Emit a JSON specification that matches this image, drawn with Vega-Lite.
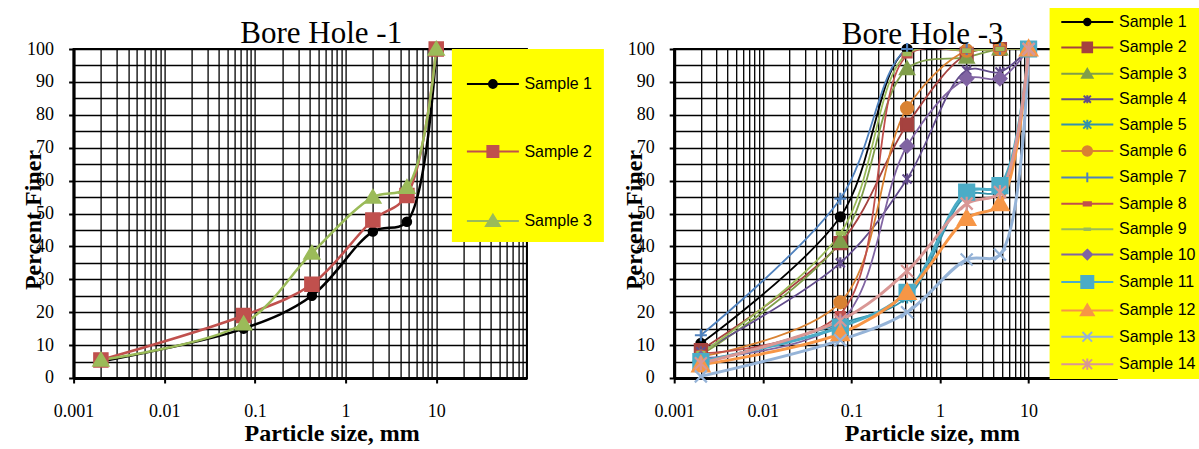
{
  "$schema": "https://vega.github.io/schema/vega-lite/v6.json",
  "autosize": {"type": "pad"},
  "padding": {"left": 20.6, "top": 7, "right": 0, "bottom": 0},
  "background": "white",
  "bounds": "flush",
  "spacing": 146.6,
  "resolve": {"scale": {"color": "independent", "stroke": "independent", "shape": "independent"}, "legend": {"color": "independent"}},
  "datasets": {
    "bh1": [
      {"sample": "Sample 1", "size": 0.002, "finer": 5},
      {"sample": "Sample 1", "size": 0.075, "finer": 15},
      {"sample": "Sample 1", "size": 0.425, "finer": 25},
      {"sample": "Sample 1", "size": 2, "finer": 44.5},
      {"sample": "Sample 1", "size": 4.75, "finer": 47.5},
      {"sample": "Sample 1", "size": 10, "finer": 100},
      {"sample": "Sample 2", "size": 0.002, "finer": 5.5},
      {"sample": "Sample 2", "size": 0.075, "finer": 19},
      {"sample": "Sample 2", "size": 0.425, "finer": 28.5},
      {"sample": "Sample 2", "size": 2, "finer": 48},
      {"sample": "Sample 2", "size": 4.75, "finer": 55.5},
      {"sample": "Sample 2", "size": 10, "finer": 100},
      {"sample": "Sample 3", "size": 0.002, "finer": 5.5},
      {"sample": "Sample 3", "size": 0.075, "finer": 16.5},
      {"sample": "Sample 3", "size": 0.425, "finer": 38},
      {"sample": "Sample 3", "size": 2, "finer": 55},
      {"sample": "Sample 3", "size": 4.75, "finer": 58},
      {"sample": "Sample 3", "size": 10, "finer": 100}
    ],
    "bh3": [
      {"sample": "Sample 1", "size": 0.002, "finer": 10.5},
      {"sample": "Sample 1", "size": 0.075, "finer": 49},
      {"sample": "Sample 1", "size": 0.425, "finer": 100},
      {"sample": "Sample 1", "size": 2, "finer": 100},
      {"sample": "Sample 1", "size": 4.75, "finer": 100},
      {"sample": "Sample 1", "size": 10, "finer": 100},
      {"sample": "Sample 2", "size": 0.002, "finer": 8.5},
      {"sample": "Sample 2", "size": 0.075, "finer": 41},
      {"sample": "Sample 2", "size": 0.425, "finer": 77},
      {"sample": "Sample 2", "size": 2, "finer": 98.5},
      {"sample": "Sample 2", "size": 4.75, "finer": 100},
      {"sample": "Sample 2", "size": 10, "finer": 100},
      {"sample": "Sample 3", "size": 0.002, "finer": 7},
      {"sample": "Sample 3", "size": 0.075, "finer": 41.5},
      {"sample": "Sample 3", "size": 0.425, "finer": 94},
      {"sample": "Sample 3", "size": 2, "finer": 97.5},
      {"sample": "Sample 3", "size": 4.75, "finer": 100},
      {"sample": "Sample 3", "size": 10, "finer": 100},
      {"sample": "Sample 4", "size": 0.002, "finer": 8},
      {"sample": "Sample 4", "size": 0.075, "finer": 35},
      {"sample": "Sample 4", "size": 0.425, "finer": 60.5},
      {"sample": "Sample 4", "size": 2, "finer": 93.5},
      {"sample": "Sample 4", "size": 4.75, "finer": 93},
      {"sample": "Sample 4", "size": 10, "finer": 100},
      {"sample": "Sample 5", "size": 0.002, "finer": 4.5},
      {"sample": "Sample 5", "size": 0.075, "finer": 16.5},
      {"sample": "Sample 5", "size": 0.425, "finer": 24.5},
      {"sample": "Sample 5", "size": 2, "finer": 55.5},
      {"sample": "Sample 5", "size": 4.75, "finer": 57},
      {"sample": "Sample 5", "size": 10, "finer": 100},
      {"sample": "Sample 6", "size": 0.002, "finer": 6.5},
      {"sample": "Sample 6", "size": 0.075, "finer": 23},
      {"sample": "Sample 6", "size": 0.425, "finer": 82},
      {"sample": "Sample 6", "size": 2, "finer": 99.5},
      {"sample": "Sample 6", "size": 4.75, "finer": 100},
      {"sample": "Sample 6", "size": 10, "finer": 100},
      {"sample": "Sample 7", "size": 0.002, "finer": 13},
      {"sample": "Sample 7", "size": 0.075, "finer": 54.5},
      {"sample": "Sample 7", "size": 0.425, "finer": 100},
      {"sample": "Sample 7", "size": 2, "finer": 100},
      {"sample": "Sample 7", "size": 4.75, "finer": 100},
      {"sample": "Sample 7", "size": 10, "finer": 100},
      {"sample": "Sample 8", "size": 0.002, "finer": 7.5},
      {"sample": "Sample 8", "size": 0.075, "finer": 19.5},
      {"sample": "Sample 8", "size": 0.425, "finer": 98},
      {"sample": "Sample 8", "size": 2, "finer": 99.5},
      {"sample": "Sample 8", "size": 4.75, "finer": 100},
      {"sample": "Sample 8", "size": 10, "finer": 100},
      {"sample": "Sample 9", "size": 0.002, "finer": 7.5},
      {"sample": "Sample 9", "size": 0.075, "finer": 44},
      {"sample": "Sample 9", "size": 0.425, "finer": 98.5},
      {"sample": "Sample 9", "size": 2, "finer": 99.5},
      {"sample": "Sample 9", "size": 4.75, "finer": 100},
      {"sample": "Sample 9", "size": 10, "finer": 100},
      {"sample": "Sample 10", "size": 0.002, "finer": 6},
      {"sample": "Sample 10", "size": 0.075, "finer": 17},
      {"sample": "Sample 10", "size": 0.425, "finer": 70.5},
      {"sample": "Sample 10", "size": 2, "finer": 91},
      {"sample": "Sample 10", "size": 4.75, "finer": 91},
      {"sample": "Sample 10", "size": 10, "finer": 100},
      {"sample": "Sample 11", "size": 0.002, "finer": 5},
      {"sample": "Sample 11", "size": 0.075, "finer": 15.5},
      {"sample": "Sample 11", "size": 0.425, "finer": 26},
      {"sample": "Sample 11", "size": 2, "finer": 56.5},
      {"sample": "Sample 11", "size": 4.75, "finer": 58.5},
      {"sample": "Sample 11", "size": 10, "finer": 100},
      {"sample": "Sample 12", "size": 0.002, "finer": 4},
      {"sample": "Sample 12", "size": 0.075, "finer": 13.5},
      {"sample": "Sample 12", "size": 0.425, "finer": 26},
      {"sample": "Sample 12", "size": 2, "finer": 48.5},
      {"sample": "Sample 12", "size": 4.75, "finer": 53},
      {"sample": "Sample 12", "size": 10, "finer": 100},
      {"sample": "Sample 13", "size": 0.002, "finer": 0.5},
      {"sample": "Sample 13", "size": 0.075, "finer": 11.5},
      {"sample": "Sample 13", "size": 0.425, "finer": 20},
      {"sample": "Sample 13", "size": 2, "finer": 36},
      {"sample": "Sample 13", "size": 4.75, "finer": 37.5},
      {"sample": "Sample 13", "size": 10, "finer": 100},
      {"sample": "Sample 14", "size": 0.002, "finer": 4.5},
      {"sample": "Sample 14", "size": 0.075, "finer": 17.5},
      {"sample": "Sample 14", "size": 0.425, "finer": 32.5},
      {"sample": "Sample 14", "size": 2, "finer": 53},
      {"sample": "Sample 14", "size": 4.75, "finer": 56.5},
      {"sample": "Sample 14", "size": 10, "finer": 100}
    ]
  },
  "config": {
    "view": {"stroke": "#000", "strokeWidth": 2},
    "axis": {
      "labelFont": "Liberation Serif", "labelFontSize": 18, "labelColor": "#000",
      "titleFont": "Liberation Serif", "titleFontSize": 24, "titleFontWeight": "bold", "titleColor": "#000",
      "domainColor": "#000", "domainWidth": 3,
      "tickColor": "#000", "tickWidth": 2, "tickSize": 5,
      "gridColor": "#000", "gridWidth": 1.3, "gridOpacity": 1,
      "labelFlush": false, "labelOverlap": false
    }
  },
  "hconcat": [
    {
      "width": 453.3,
      "height": 329,
      "title": {"text": "Bore Hole -1", "frame": "group", "anchor": "middle", "dx": 21, "offset": -35, "baseline": "alphabetic", "font": "Liberation Serif", "fontSize": 31, "fontWeight": "normal", "color": "#000"},
      "data": {"name": "bh1"},
      "encoding": {
        "x": {"field": "size", "type": "quantitative",
          "scale": {"type": "log", "domain": [0.001, 100], "nice": false},
          "axis": {"title": "Particle size, mm", "titleX": 258, "titleY": 62.5, "titleBaseline": "alphabetic", "titleAlign": "center", "titleAnchor": null,
            "labelFont": "Liberation Serif", "labelFontSize": 18, "labelColor": "#000",
            "values": [0.001,0.002,0.003,0.004,0.005,0.006,0.007,0.008,0.009,0.01,0.02,0.03,0.04,0.05,0.06,0.07,0.08,0.09,0.1,0.2,0.3,0.4,0.5,0.6,0.7,0.8,0.9,1,2,3,4,5,6,7,8,9,10,20,30,40,50,60,70,80,90,100],
            "labelExpr": "datum.value == 0.001 ? '0.001' : datum.value == 0.01 ? '0.01' : datum.value == 0.1 ? '0.1' : datum.value == 1 ? '1' : datum.value == 10 ? '10' : ''",
            "labelPadding": 19.7,
            "tickOpacity": {"condition": {"test": "indexof([0.001,0.01,0.1,1,10], datum.value) >= 0", "value": 1}, "value": 0}}},
        "y": {"field": "finer", "type": "quantitative",
          "scale": {"domain": [0, 100], "nice": false},
          "axis": {"title": "Percent Finer", "titleX": -32.7, "titleY": 170.5, "titleAngle": -90, "titleBaseline": "alphabetic", "titleAlign": "center", "titleAnchor": null,
            "labelFont": "Liberation Serif", "labelFontSize": 18, "labelColor": "#000",
            "values": [0,5,10,15,20,25,30,35,40,45,50,55,60,65,70,75,80,85,90,95,100],
            "labelExpr": "datum.value % 10 == 0 ? datum.label : ''",
            "labelPadding": 15,
            "tickOpacity": {"condition": {"test": "datum.value % 10 == 0", "value": 1}, "value": 0}}}
      },
      "layer": [
        {
          "mark": {"type": "line", "interpolate": "catmull-rom", "strokeWidth": 2.5, "clip": true},
          "encoding": {
            "color": {"field": "sample", "type": "nominal",
              "scale": {"domain": ["Sample 1", "Sample 2", "Sample 3"], "range": ["#000000", "#C0504D", "#9BBB59"]},
              "legend": {"title": null, "orient": "none", "legendX": 378.3, "legendY": 0, "fillColor": "#FFFF00", "padding": 11,
                "symbolSize": 2116, "symbolStrokeWidth": 2, "symbolOffset": 6, "labelOffset": 7.5, "rowPadding": 35.5,
                "labelFont": "Liberation Sans", "labelFontSize": 16, "labelColor": "#000", "labelLimit": 300,
                "encode": {"symbols": {"update": {
                  "shape": {"signal": "['M-1.13,0H1.13M-0.17,0A0.17,0.17,0,1,0,0.17,0A0.17,0.17,0,1,0,-0.17,0Z','M-1.13,0H1.13M-0.24,-0.24H0.24V0.24H-0.24Z','M-1.13,0H1.13M0,-0.27L0.3,0.22H-0.3Z'][indexof(['Sample 1','Sample 2','Sample 3'], datum.value)]"},
                  "fill": {"signal": "['#000000','#C0504D','#9BBB59'][indexof(['Sample 1','Sample 2','Sample 3'], datum.value)]"},
                  "stroke": {"signal": "['#000000','#C0504D','#9BBB59'][indexof(['Sample 1','Sample 2','Sample 3'], datum.value)]"},
                  "strokeWidth": {"value": 2},
                  "opacity": {"value": 1}
                }}}
              }}
          }
        },
        {
          "mark": {"type": "point", "filled": true, "size": 400, "opacity": 1, "strokeWidth": 1.5},
          "encoding": {
            "color": {"field": "sample", "type": "nominal"},
            "stroke": {"field": "sample", "type": "nominal", "legend": null,
              "scale": {"domain": ["Sample 1", "Sample 2", "Sample 3", "~"], "range": ["#000000", "#C0504D", "#9BBB59", "#000000"]}},
            "shape": {"field": "sample", "type": "nominal", "legend": null,
              "scale": {"domain": ["Sample 1", "Sample 2", "Sample 3", "~~"],
                "range": ["M-0.45,0A0.45,0.45,0,1,0,0.45,0A0.45,0.45,0,1,0,-0.45,0Z", "M-0.7,-0.7H0.7V0.7H-0.7Z", "M0,-0.75L0.8,0.6H-0.8Z", "M0,0Z"]}}
          }
        }
      ]
    },
    {
      "width": 443,
      "height": 329,
      "title": {"text": "Bore Hole -3", "frame": "group", "anchor": "middle", "dx": 27, "offset": -67, "baseline": "alphabetic", "font": "Liberation Serif", "fontSize": 31, "fontWeight": "normal", "color": "#000"},
      "data": {"name": "bh3"},
      "encoding": {
        "x": {"field": "size", "type": "quantitative",
          "scale": {"type": "log", "domain": [0.001, 100], "nice": false},
          "axis": {"title": "Particle size, mm", "titleX": 257.6, "titleY": 62.5, "titleBaseline": "alphabetic", "titleAlign": "center", "titleAnchor": null,
            "labelFont": "Liberation Serif", "labelFontSize": 18, "labelColor": "#000",
            "values": [0.001,0.002,0.003,0.004,0.005,0.006,0.007,0.008,0.009,0.01,0.02,0.03,0.04,0.05,0.06,0.07,0.08,0.09,0.1,0.2,0.3,0.4,0.5,0.6,0.7,0.8,0.9,1,2,3,4,5,6,7,8,9,10,20,30,40,50,60,70,80,90,100],
            "labelExpr": "datum.value == 0.001 ? '0.001' : datum.value == 0.01 ? '0.01' : datum.value == 0.1 ? '0.1' : datum.value == 1 ? '1' : datum.value == 10 ? '10' : ''",
            "labelPadding": 19.7,
            "tickOpacity": {"condition": {"test": "indexof([0.001,0.01,0.1,1,10], datum.value) >= 0", "value": 1}, "value": 0}}},
        "y": {"field": "finer", "type": "quantitative",
          "scale": {"domain": [0, 100], "nice": false},
          "axis": {"title": "Percent Finer", "titleX": -32.5, "titleY": 170.5, "titleAngle": -90, "titleBaseline": "alphabetic", "titleAlign": "center", "titleAnchor": null,
            "labelFont": "Liberation Serif", "labelFontSize": 18, "labelColor": "#000",
            "values": [0,5,10,15,20,25,30,35,40,45,50,55,60,65,70,75,80,85,90,95,100],
            "labelExpr": "datum.value % 10 == 0 ? datum.label : ''",
            "labelPadding": 15,
            "tickOpacity": {"condition": {"test": "datum.value % 10 == 0", "value": 1}, "value": 0}}}
      },
      "layer": [
        {
          "transform": [{"filter": "indexof(['Sample 11','Sample 12','Sample 13','Sample 14'], datum.sample) < 0"}],
          "mark": {"type": "line", "interpolate": "catmull-rom", "strokeWidth": 1.8, "clip": true},
          "encoding": {
            "color": {"field": "sample", "type": "nominal",
              "scale": {"domain": ["Sample 1","Sample 2","Sample 3","Sample 4","Sample 5","Sample 6","Sample 7","Sample 8","Sample 9","Sample 10","Sample 11","Sample 12","Sample 13","Sample 14"],
                "range": ["#000000","#A5423F","#809E4A","#634D8C","#3592AB","#D98232","#4F81BD","#C0504D","#9BBB59","#8064A2","#4BACC6","#F79646","#95B3D7","#D99795"]},
              "legend": {"title": null, "orient": "none", "legendX": 375.4, "legendY": -41, "fillColor": "#FFFF00", "padding": 5,
                "symbolSize": 256, "symbolStrokeWidth": 1.5, "symbolOffset": 23.7, "labelOffset": 22.7, "rowPadding": 8.4,
                "labelFont": "Liberation Sans", "labelFontSize": 16, "labelColor": "#000", "labelLimit": 300,
                "encode": {"symbols": {"update": {
                  "shape": {"signal": "['M-3.25,0H3.25M-0.4,0A0.4,0.4,0,1,0,0.4,0A0.4,0.4,0,1,0,-0.4,0Z','M-3.25,0H3.25M-0.6,-0.6H0.6V0.6H-0.6Z','M-3.25,0H3.25M0,-0.6L0.65,0.5H-0.65Z','M-3.25,0H3.25M-0.45,-0.45L0.45,0.45M-0.45,0.45L0.45,-0.45M0,-0.5V0.5','M-3.25,0H3.25M-0.5,-0.5L0.5,0.5M-0.5,0.5L0.5,-0.5M0,-0.6V0.6','M-3.25,0H3.25M-0.6,0A0.6,0.6,0,1,0,0.6,0A0.6,0.6,0,1,0,-0.6,0Z','M-3.25,0H3.25M-0.5,0H0.5M0,-0.6V0.6','M-3.25,0H3.25M-0.45,-0.2H0.45V0.2H-0.45Z','M-3.25,0H3.25M-0.35,-0.1H0.35V0.1H-0.35Z','M-3.25,0H3.25M0,-0.6L0.6,0L0,0.6L-0.6,0Z','M-3.25,0H3.25M-0.75,-0.75H0.75V0.75H-0.75Z','M-3.25,0H3.25M0,-0.75L0.8,0.6H-0.8Z','M-3.25,0H3.25M-0.6,-0.6L0.6,0.6M-0.6,0.6L0.6,-0.6','M-3.25,0H3.25M-0.6,-0.6L0.6,0.6M-0.6,0.6L0.6,-0.6M0,-0.7V0.7'][indexof(['Sample 1','Sample 2','Sample 3','Sample 4','Sample 5','Sample 6','Sample 7','Sample 8','Sample 9','Sample 10','Sample 11','Sample 12','Sample 13','Sample 14'], datum.value)]"},
                  "fill": {"signal": "['#000000','#A5423F','#809E4A','#634D8C','#3592AB','#D98232','#4F81BD','#C0504D','#9BBB59','#8064A2','#4BACC6','#F79646','#95B3D7','#D99795'][indexof(['Sample 1','Sample 2','Sample 3','Sample 4','Sample 5','Sample 6','Sample 7','Sample 8','Sample 9','Sample 10','Sample 11','Sample 12','Sample 13','Sample 14'], datum.value)]"},
                  "stroke": {"signal": "['#000000','#A5423F','#809E4A','#634D8C','#3592AB','#D98232','#4F81BD','#C0504D','#9BBB59','#8064A2','#4BACC6','#F79646','#95B3D7','#D99795'][indexof(['Sample 1','Sample 2','Sample 3','Sample 4','Sample 5','Sample 6','Sample 7','Sample 8','Sample 9','Sample 10','Sample 11','Sample 12','Sample 13','Sample 14'], datum.value)]"},
                  "strokeWidth": {"value": 2},
                  "opacity": {"value": 1}
                }}}
              }}
          }
        },
        {
          "transform": [{"filter": "indexof(['Sample 11','Sample 12','Sample 13','Sample 14'], datum.sample) >= 0"}],
          "mark": {"type": "line", "interpolate": "catmull-rom", "strokeWidth": 3, "clip": true},
          "encoding": {"color": {"field": "sample", "type": "nominal"}}
        },
        {
          "mark": {"type": "point", "filled": true, "size": 400, "opacity": 1, "strokeWidth": 2.2},
          "encoding": {
            "color": {"field": "sample", "type": "nominal"},
            "stroke": {"field": "sample", "type": "nominal", "legend": null,
              "scale": {"domain": ["Sample 1","Sample 2","Sample 3","Sample 4","Sample 5","Sample 6","Sample 7","Sample 8","Sample 9","Sample 10","Sample 11","Sample 12","Sample 13","Sample 14","~"],
                "range": ["#000000","#A5423F","#809E4A","#634D8C","#3592AB","#D98232","#4F81BD","#C0504D","#9BBB59","#8064A2","#4BACC6","#F79646","#95B3D7","#D99795","#000000"]}},
            "shape": {"field": "sample", "type": "nominal", "legend": null,
              "scale": {"domain": ["Sample 1","Sample 2","Sample 3","Sample 4","Sample 5","Sample 6","Sample 7","Sample 8","Sample 9","Sample 10","Sample 11","Sample 12","Sample 13","Sample 14","~~"],
                "range": [
                  "M-0.45,0A0.45,0.45,0,1,0,0.45,0A0.45,0.45,0,1,0,-0.45,0Z",
                  "M-0.6,-0.6H0.6V0.6H-0.6Z",
                  "M0,-0.7L0.7,0.55H-0.7Z",
                  "M-0.45,-0.45L0.45,0.45M-0.45,0.45L0.45,-0.45M0,-0.55V0.55",
                  "M-0.5,-0.5L0.5,0.5M-0.5,0.5L0.5,-0.5M0,-0.6V0.6",
                  "M-0.6,0A0.6,0.6,0,1,0,0.6,0A0.6,0.6,0,1,0,-0.6,0Z",
                  "M-0.6,0H0.6M0,-0.6V0.6",
                  "M-0.45,-0.18H0.45V0.18H-0.45Z",
                  "M-0.35,-0.12H0.35V0.12H-0.35Z",
                  "M0,-0.65L0.65,0L0,0.65L-0.65,0Z",
                  "M-0.75,-0.75H0.75V0.75H-0.75Z",
                  "M0,-0.85L0.85,0.65H-0.85Z",
                  "M-0.6,-0.6L0.6,0.6M-0.6,0.6L0.6,-0.6",
                  "M-0.6,-0.6L0.6,0.6M-0.6,0.6L0.6,-0.6M0,-0.7V0.7",
                  "M0,0Z"
                ]}}
          }
        }
      ]
    }
  ]
}
